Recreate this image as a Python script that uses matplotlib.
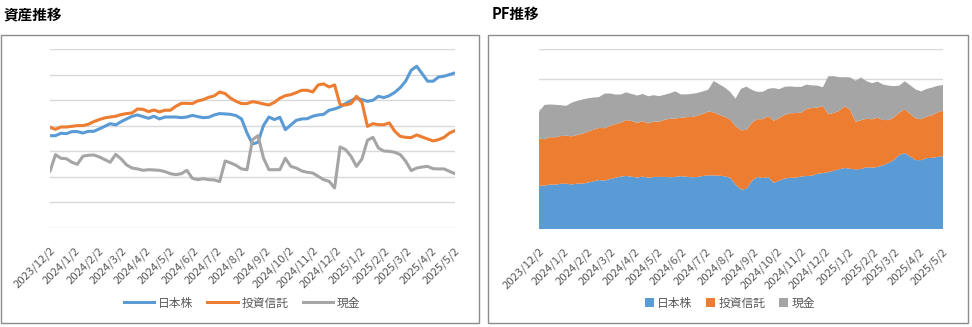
import datetime as dt

import matplotlib
matplotlib.use("Agg")
import matplotlib.pyplot as plt
import matplotlib.dates as mdates
from matplotlib.patches import Rectangle
from matplotlib.lines import Line2D
from matplotlib.ticker import FuncFormatter

plt.rcParams["font.family"] = ["Noto Sans CJK JP", "DejaVu Sans"]

# =====================================================
# データ (単位: 千円, 週次)
# =====================================================
START_DATE = dt.date(2023, 12, 2)
N_WEEKS = 75

nihon_kabu = [
    722, 722, 741, 738, 754, 754, 743, 756, 756, 775,
    795, 816, 806, 832, 853, 874, 884, 871, 858, 874,
    853, 868, 868, 868, 863, 868, 881, 871, 863, 866,
    884, 895, 892, 889, 879, 853, 743, 657, 670, 801,
    868, 848, 866, 769, 806, 842, 853, 855, 874, 884,
    889, 921, 931, 947, 973, 996, 1017, 1004, 991, 999,
    1030, 1020, 1035, 1061, 1098, 1150, 1234, 1265, 1207, 1148,
    1148, 1181, 1187, 1200, 1213,
]
toushin = [
    788, 772, 790, 790, 795, 801, 801, 811, 832, 848,
    861, 868, 874, 887, 895, 900, 931, 928, 910, 923,
    908, 921, 921, 952, 975, 975, 973, 994, 1004, 1022,
    1033, 1064, 1051, 1015, 991, 973, 973, 988, 981, 970,
    962, 983, 1015, 1035, 1043, 1059, 1077, 1077, 1064, 1119,
    1127, 1103, 1119, 965, 962, 973, 1030, 983, 795, 816,
    808, 808, 822, 756, 717, 709, 707, 728, 712, 696,
    681, 691, 709, 743, 762,
]
genkin = [
    443, 574, 545, 542, 514, 498, 561, 569, 571, 556,
    535, 514, 576, 540, 493, 469, 462, 451, 456, 454,
    451, 441, 425, 417, 425, 451, 389, 378, 386, 378,
    376, 363, 524, 509, 490, 462, 456, 691, 722, 548,
    456, 456, 456, 545, 482, 469, 446, 436, 430, 404,
    378, 365, 313, 634, 613, 561, 482, 540, 686, 709,
    626, 602, 600, 592, 574, 522, 449, 469, 477, 482,
    464, 462, 462, 443, 425,
]
series_names = ["日本株", "投資信託", "現金"]
colors = ["#5B9BD5", "#ED7D31", "#A5A5A5"]

dates = [START_DATE + dt.timedelta(days=7 * i) for i in range(N_WEEKS)]

W, H = 972, 327
TEXT_GRAY = "#595959"
GRID = "#D9D9D9"


def fx(px):
    return px / W


def fy(py):
    return 1 - py / H


def date_label(x, pos):
    d = mdates.num2date(x)
    return f"{d.year}/{d.month}/{d.day}"


def style_axis(ax, ymax, ystep):
    ax.set_xlim(dates[0], dates[-1])
    ax.set_ylim(0, ymax)
    ax.set_yticks(range(0, ymax + 1, ystep))
    ax.yaxis.grid(True, color=GRID, lw=1.0)
    ax.set_axisbelow(True)
    for s in ax.spines.values():
        s.set_visible(False)
    ax.tick_params(left=False, labelleft=False, bottom=False)
    ax.xaxis.set_major_locator(mdates.MonthLocator(bymonthday=2))
    ax.xaxis.set_major_formatter(FuncFormatter(date_label))
    for lbl in ax.get_xticklabels():
        lbl.set_rotation(45)
        lbl.set_ha("right")
        lbl.set_va("top")
        lbl.set_rotation_mode("anchor")
        lbl.set_fontsize(8.2)
        lbl.set_color(TEXT_GRAY)
    ax.tick_params(axis="x", pad=9)


fig = plt.figure(figsize=(W / 100, H / 100), dpi=100)

# パネル枠
for x0, x1 in [(1, 479), (488, 968)]:
    fig.patches.append(Rectangle((fx(x0), fy(323)), fx(x1 - x0), (323 - 35) / H,
                                 transform=fig.transFigure, fill=False,
                                 edgecolor="#8C8C8C", lw=1.0))

fig.text(fx(3), fy(14), "資産推移", fontsize=10.5, fontweight="bold", va="center", ha="left")
fig.text(fx(492), fy(14), "PF推移", fontsize=10.5, fontweight="bold", va="center", ha="left")

# --- 資産推移 (折れ線)
ax1 = fig.add_axes([fx(50), fy(228), fx(405), (228 - 49) / H])
for vals, name, c in zip([nihon_kabu, toushin, genkin], series_names, colors):
    ax1.plot(dates, vals, color=c, lw=2.2, label=name, solid_capstyle="round")
style_axis(ax1, 1400, 200)
handles1 = [Line2D([0], [0], color=c, lw=2.2) for c in colors]
ax1.legend(handles1, series_names, loc="center", bbox_to_anchor=(fx(242), fy(303)),
           bbox_transform=fig.transFigure, ncol=3, frameon=False, fontsize=8.5,
           labelcolor=TEXT_GRAY, handlelength=2.6, handletextpad=0.3, columnspacing=1.2)

# --- PF推移 (積み上げ面)
ax2 = fig.add_axes([fx(539), fy(229), fx(404), (229 - 49) / H])
ax2.stackplot(dates, nihon_kabu, toushin, genkin, colors=colors, labels=series_names, lw=0)
style_axis(ax2, 3000, 500)
ax2.legend(loc="center", bbox_to_anchor=(fx(730), fy(303)),
           bbox_transform=fig.transFigure, ncol=3, frameon=False, fontsize=8.5,
           labelcolor=TEXT_GRAY, handlelength=0.7, handleheight=0.7,
           handletextpad=0.3, columnspacing=1.2)

fig.savefig("out.png", dpi=100)
